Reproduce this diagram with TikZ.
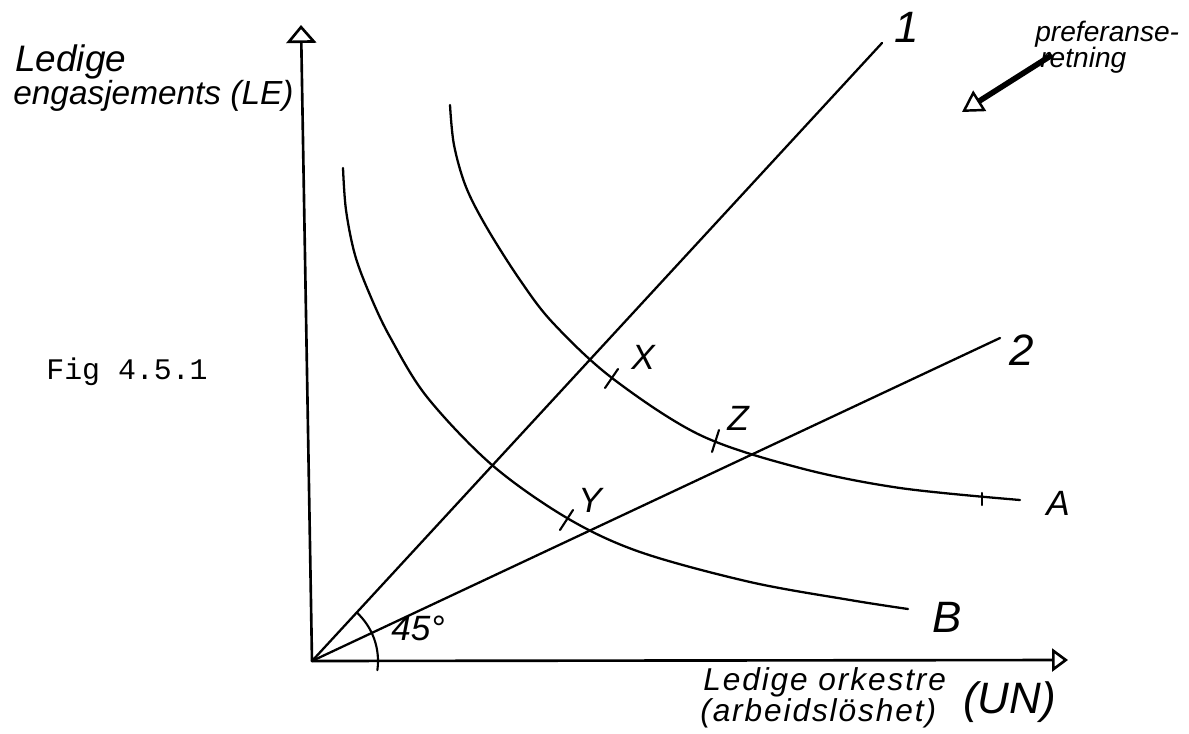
\documentclass[tikz,border=0pt]{standalone}
\usepackage{fontspec}
\newfontfamily\handfont{Liberation Sans}
\newfontfamily\handwide{Liberation Sans}[LetterSpace=6]
\newfontfamily\typefont{Liberation Mono}
\usetikzlibrary{arrows.meta}
\begin{document}
\begin{tikzpicture}[x=0.02cm,y=-0.02cm,
  axisline/.style={line width=1.5pt, line cap=round},
  rayline/.style={line width=1.3pt, line cap=round},
  curveline/.style={line width=1.3pt, line cap=round},
  tickmark/.style={line width=1.2pt, line cap=round},
  hand/.style={font=\handfont\itshape\fontsize{20}{20}\selectfont, inner sep=0pt},
  handaxis/.style={font=\handwide\itshape\fontsize{18}{18}\selectfont, inner sep=0pt},
  handbig/.style={font=\handfont\itshape\fontsize{25}{25}\selectfont, inner sep=0pt},
  handsmall/.style={font=\handfont\itshape\fontsize{16}{16}\selectfont, inner sep=0pt},
  figlabel/.style={font=\typefont\fontsize{17}{17}\selectfont, inner sep=0pt}
]
\useasboundingbox (0,0) rectangle (1189,733);
% axes
\coordinate (O) at (312,661);
\coordinate (ytop) at (301,25);
\coordinate (xend) at (1068,660);
\draw[axisline, -{Triangle[open, length=0.36cm, width=0.6cm, line width=1.5pt]}] (O) -- (ytop);
\draw[axisline, -{Triangle[open, length=0.32cm, width=0.46cm, line width=1.5pt]}] (O) -- (xend);
% rays
\coordinate (r1end) at (882,43);
\coordinate (r2end) at (1000,338);
\draw[rayline] (O) -- (r1end);
\draw[rayline] (O) -- (r2end);
% curve A
\draw[curveline] plot[smooth, tension=0.55] coordinates {(450,105) (454,145) (466,187) (487,228) (520,280) (553,323) (612,378) (700,435) (800,468) (900,488) (1020,500)};
% curve B
\draw[curveline] plot[smooth, tension=0.55] coordinates {(343,168) (346,210) (355,255) (370,295) (390,337) (427,397) (492,465) (567,518) (640,552) (750,582) (850,600) (908,609)};
% tick marks
\coordinate (xt1) at (605,388); \coordinate (xt2) at (618,369);
\coordinate (zt1) at (712,452); \coordinate (zt2) at (719,430);
\coordinate (yt1) at (560,530); \coordinate (yt2) at (573,510);
\coordinate (at1) at (982,493); \coordinate (at2) at (982,505);
\draw[tickmark] (xt1) -- (xt2);
\draw[tickmark] (zt1) -- (zt2);
\draw[tickmark] (yt1) -- (yt2);
\draw[tickmark] (at1) -- (at2);
% 45 degree arc
\draw[tickmark] (O) ++(8:66) arc[start angle=8, end angle=-47, radius=66];
\node[hand] (deg) at (418,628) {45°};
% preference arrow
\coordinate (pstart) at (1052,55);
\coordinate (ptip) at (962,112);
\draw[line width=3.2pt, -{Triangle[open, length=0.42cm, width=0.48cm, line width=1.4pt]}] (pstart) -- (ptip);
\node[handsmall, anchor=base west] (pref1) at (1035,42) {preferanse-};
\node[handsmall, anchor=base west] (pref2) at (1040,68) {retning};
% axis labels
\node[font=\handfont\itshape\fontsize{21}{21}\selectfont, inner sep=0pt, anchor=base west] (ly1) at (15,72) {Ledige};
\node[font=\handfont\itshape\fontsize{19}{19}\selectfont, inner sep=0pt, anchor=base west] (ly2) at (13,105) {engasjements (LE)};
\node[handaxis, anchor=base west] (lx1) at (703,690) {Ledige orkestre};
\node[handaxis, anchor=base west] (lx2) at (700,721) {(arbeidslöshet)};
\node[handbig, anchor=base west] (lx3) at (963,713) {(UN)};
% curve and ray labels
\node[handbig] (l1) at (907,27) {1};
\node[handbig] (l2) at (1022,350) {2};
\node[hand] (lA) at (1058,503) {A};
\node[handbig] (lB) at (947,617) {B};
\node[hand] (lX) at (643,357) {X};
\node[hand] (lZ) at (738,418) {Z};
\node[hand] (lY) at (590,500) {Y};
% figure caption
\node[figlabel] (fig) at (127,372) {Fig 4.5.1};
\end{tikzpicture}
\end{document}
